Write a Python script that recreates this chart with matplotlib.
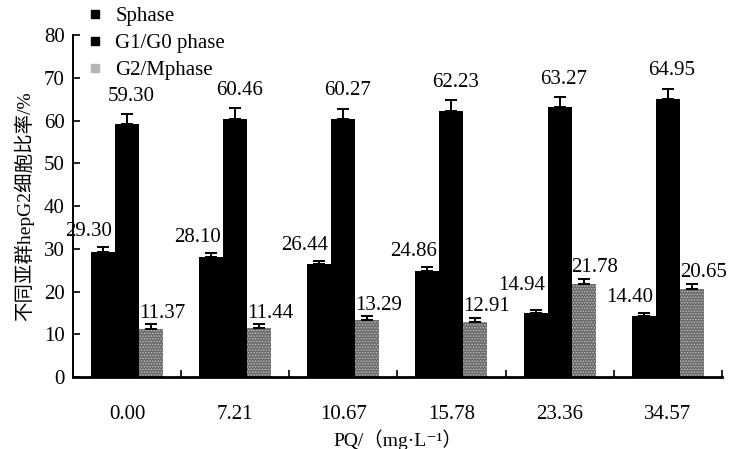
import numpy as np
import matplotlib
matplotlib.use("Agg")
from matplotlib import pyplot as plt
from matplotlib.lines import Line2D

# data
doses = ["0.00", "7.21", "10.67", "15.78", "23.36", "34.57"]
s_phase = [29.30, 28.10, 26.44, 24.86, 14.94, 14.40]
g1_phase = [59.30, 60.46, 60.27, 62.23, 63.27, 64.95]
g2_phase = [11.37, 11.44, 13.29, 12.91, 21.78, 20.65]
s_err = [1.2, 1.0, 0.8, 1.0, 0.8, 0.6]
g1_err = [2.2, 2.5, 2.5, 2.5, 2.2, 2.5]
g2_err = [1.0, 1.0, 1.0, 1.0, 1.2, 1.2]
series_names = ["Sphase", "G1/G0 phase", "G2/Mphase"]

num_font = "Liberation Serif"
cjk_fam = ["Liberation Serif", "Noto Sans CJK SC", "DejaVu Sans"]
plt.rcParams["font.family"] = cjk_fam
plt.rcParams["hatch.linewidth"] = 0.6

fig = plt.figure(figsize=(7.38, 4.49), dpi=100)
ax = fig.add_axes([0.099, 0.160, 0.879, 0.762])

x = np.arange(len(doses))
w = 0.222

ax.bar(x - w, s_phase, w, color="black", zorder=2)
ax.bar(x, g1_phase, w, color="black", zorder=2)
ax.bar(x + w, g2_phase, w, facecolor="#6c6c6c", edgecolor="#c4c4c4",
       hatch="......", linewidth=0, zorder=2)

ekw = dict(fmt="none", ecolor="black", elinewidth=1.4, capsize=4, capthick=1.4, zorder=3)
ax.errorbar(x - w, s_phase, yerr=[np.zeros(6), s_err], **ekw)
ax.errorbar(x, g1_phase, yerr=[np.zeros(6), g1_err], **ekw)
ax.errorbar(x + w, g2_phase, yerr=[np.zeros(6), g2_err], **ekw)

# value labels
fs = 15
box = dict(facecolor="white", edgecolor="none", pad=0)
s_labels, g2_labels = [], []
for i in range(len(doses)):
    t = ax.annotate("%.2f" % s_phase[i], (x[i] - w / 2, s_phase[i] + s_err[i]),
                    xytext=(-2, 4), textcoords="offset points", ha="right", va="bottom",
                    fontsize=fs, family=num_font, zorder=1, bbox=box)
    s_labels.append(t)
    ax.annotate("%.2f" % g1_phase[i], (x[i], g1_phase[i] + g1_err[i]),
                xytext=(3, 6), textcoords="offset points", ha="center", va="bottom",
                fontsize=fs, family=num_font, zorder=1, bbox=box)
    t = ax.annotate("%.2f" % g2_phase[i], (x[i] + w / 2, g2_phase[i] + g2_err[i]),
                    xytext=(0, 1), textcoords="offset points", ha="left", va="bottom",
                    fontsize=fs, family=num_font, zorder=1, bbox=box)
    g2_labels.append(t)

ax.set_xlim(-0.5, len(doses) - 0.5)
ax.set_ylim(0, 80)
ax.set_yticks(np.arange(0, 81, 10))
ax.set_xticks(x)
ax.set_xticklabels(doses, fontsize=fs, family=num_font)
ax.set_xticks(np.arange(0.5, len(doses), 1), minor=True)
ax.tick_params(axis="x", which="major", length=0, pad=20)
ax.tick_params(axis="x", which="minor", direction="in", length=5, width=1.2)
ax.tick_params(axis="y", direction="in", length=5, width=1.2, labelsize=fs, pad=6)
for lab in ax.get_yticklabels():
    lab.set_family(num_font)

for sp in ["top", "right"]:
    ax.spines[sp].set_visible(False)
ax.spines["left"].set_linewidth(1.4)
ax.spines["bottom"].set_linewidth(2.0)

ax.set_ylabel("不同亚群hepG2细胞比率/%", fontsize=14, labelpad=7)
ax.set_xlabel("PQ/（mg·L⁻¹）", fontsize=14, labelpad=4)

handles = [Line2D([], [], ls="none", marker="s", markersize=6, color="black"),
           Line2D([], [], ls="none", marker="s", markersize=6, color="black"),
           Line2D([], [], ls="none", marker="s", markersize=6, color="#b5b5b5")]
fig.legend(handles, series_names, loc="upper left", bbox_to_anchor=(0.114, 0.99),
           frameon=False, prop={"family": num_font, "size": fs},
           handlelength=0.8, handletextpad=0.6, labelspacing=0.36,
           borderpad=0.1, borderaxespad=0)

# lift an S label if it runs into the G2 label of the group before it
fig.canvas.draw()
r = fig.canvas.get_renderer()
for i in range(1, len(doses)):
    a = s_labels[i].get_window_extent(r)
    b = g2_labels[i - 1].get_window_extent(r)
    if a.overlaps(b):
        dy = (b.y1 - a.y0 + 2) * 72.0 / fig.dpi
        dx0, dy0 = s_labels[i].xyann
        s_labels[i].xyann = (dx0, dy0 + dy)

fig.savefig("out.png", dpi=100)
